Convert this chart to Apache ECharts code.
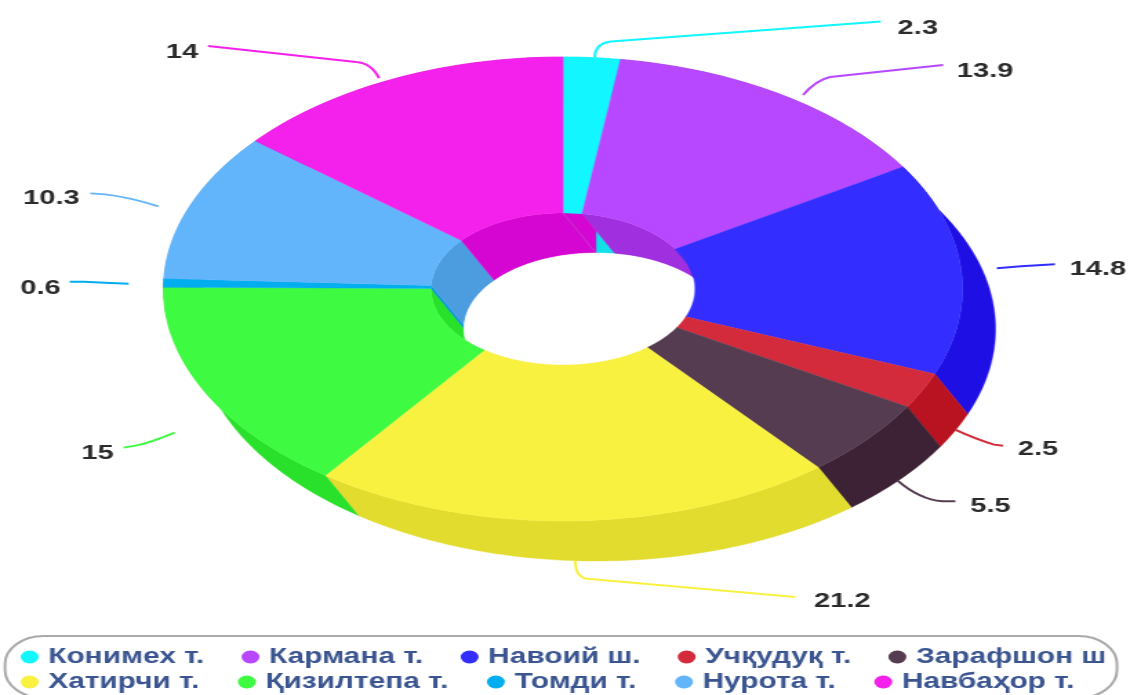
<!DOCTYPE html>
<html>
<head>
<meta charset="utf-8">
<style>
  html, body { margin: 0; padding: 0; background: #fff; overflow: hidden; }
  /* the original picture is stretched sideways, text and legend dots too */
  #chart { width: 819px; height: 695px; transform: scaleX(1.3797); transform-origin: 0 0; }
</style>
<script src="https://cdn.jsdelivr.net/npm/echarts@6/dist/echarts.min.js"></script>
</head>
<body>
<div id="chart"></div>
<script>
const categories = ['Конимех т.', 'Кармана т.', 'Навоий ш.', 'Учқудуқ т.', 'Зарафшон ш', 'Хатирчи т.', 'Қизилтепа т.', 'Томди т.', 'Нурота т.', 'Навбаҳор т.'];
const values = [2.3, 13.9, 14.8, 2.5, 5.5, 21.2, 15, 0.6, 10.3, 14];
const faceColors = ['#12f7ff', '#b748ff', '#332eff', '#d42b3c', '#553c50', '#f9f140', '#3efb41', '#00aeef', '#62b5fb', '#f321eb'];
const wallColors = ['#10e0e8', '#a02fe0', '#1e10e5', '#b91321', '#3d2235', '#e2dc2e', '#29e02b', '#0097d8', '#4b9de0', '#d606d2'];

// leader line per slice, px relative to the slice's mid point on the rim:
// start, bend control, bend end, line end, label centre
const leaders = [
  [[3, 0], [3, -14], [19, -16], [289, -36], [326, -29]],
  [[21, 0], [34, -15], [48, -18], [161, -30], [203, -24]],
  [[36, 0], [60, -2], [60, -2], [94, -4], [137, 1]],
  [[33, 39], [55, 49], [72, 54], [81, 55], [116, 59]],
  [[30, 41], [52, 60], [75, 62], [88, 62], [123, 67]],
  [[1, 40], [1, 58], [16, 58], [221, 76], [268, 80]],
  [[-31, 40], [-55, 50], [-70, 53], [-82, 55], [-108, 61]],
  [[-35, 1], [-60, 0], [-80, -1], [-94, -1], [-123, 5]],
  [[-32, 1], [-60, -8], [-85, -11], [-100, -12], [-139, -7]],
  [[-14, -1], [-22, -16], [-37, -17], [-185, -33], [-211, -27]]
];

const SX = 1130 / 819;
const CX = 563, CY = 289;
const OUTER = [399.5, 232], INNER = [132, 76];
const DEPTH = [33, 40];
const FONT = 'bold 21px "Liberation Sans", Arial, sans-serif';

const total = values.reduce((a, b) => a + b, 0);
const starts = values.map((v, i) => values.slice(0, i).reduce((a, b) => a + b, 0));

// all geometry below is worked out in picture px, then squeezed by SX for the canvas
const rim = (r, frac, shift) => {
  const a = frac * Math.PI * 2;
  return [
    CX + r[0] * Math.sin(a) + (shift ? DEPTH[0] : 0),
    CY - r[1] * Math.cos(a) + (shift ? DEPTH[1] : 0)
  ];
};
const toCanvas = p => [p[0] / SX, p[1]];

const arc = (r, from, to, shift) => {
  const pts = [];
  const steps = Math.max(2, Math.ceil((to - from) * 360));
  for (let k = 0; k <= steps; k++) {
    pts.push(rim(r, from + (to - from) * k / steps, shift));
  }
  return pts;
};

const sliceRange = (api, i) => {
  const from = starts[i] / total;
  return [from, from + api.value(0) / total];
};

const polygon = (pts, fill) => ({
  type: 'polygon',
  shape: { points: pts.map(toCanvas) },
  style: { fill, stroke: fill, lineWidth: 0.4 }
});

const wallItem = r => (params, api) => {
  const i = params.dataIndex;
  const [from, to] = sliceRange(api, i);
  return polygon(arc(r, from, to, false).concat(arc(r, from, to, true).reverse()), wallColors[i]);
};

const faceItem = (params, api) => {
  const i = params.dataIndex;
  const [from, to] = sliceRange(api, i);
  return polygon(arc(OUTER, from, to, false).concat(arc(INNER, from, to, false).reverse()), faceColors[i]);
};

const holeItem = () => polygon(arc(INNER, 0, 1, true), '#fff');

// last slice's wall laps over the first one where they meet at the top
const seamItem = (params, api) => {
  const end = sliceRange(api, 0)[1];
  const a = rim(INNER, 0, false);
  const b = rim(INNER, end, false);
  const t = (a[0] + DEPTH[0] - b[0]) / DEPTH[0];
  const c = [b[0] + DEPTH[0] * t, b[1] + DEPTH[1] * t];
  const d = rim(INNER, 0, true);
  return {
    type: 'group',
    children: [
      polygon([a, b, c, d], wallColors[9]),
      {
        type: 'line',
        shape: { x1: a[0] / SX, y1: a[1], x2: d[0] / SX, y2: d[1] },
        style: { stroke: '#c040c8', lineWidth: 0.7 }
      }
    ]
  };
};

const leaderItem = (params, api) => {
  const i = params.dataIndex;
  const [from, to] = sliceRange(api, i);
  const mid = rim(OUTER, (from + to) / 2, false);
  const [s, c, m, e, l] = leaders[i].map(o => toCanvas([mid[0] + o[0], mid[1] + o[1]]));
  return {
    type: 'group',
    children: [
      {
        type: 'path',
        shape: { pathData: `M${s[0]} ${s[1]}Q${c[0]} ${c[1]} ${m[0]} ${m[1]}L${e[0]} ${e[1]}` },
        style: { fill: 'none', stroke: faceColors[i], lineWidth: 2 }
      },
      {
        type: 'text',
        style: {
          x: l[0], y: l[1], text: String(api.value(0)), font: FONT,
          fill: '#2b2b2b', align: 'center', verticalAlign: 'middle'
        }
      }
    ]
  };
};

const custom = (renderItem, data, z) => ({
  type: 'custom',
  coordinateSystem: 'none',
  silent: true,
  animation: false,
  z,
  renderItem,
  data
});

const legendRow = (data, top, itemGap) => ({
  data,
  left: 15,
  top,
  padding: 0,
  itemGap,
  itemWidth: 13,
  itemHeight: 15,
  icon: 'circle',
  selectedMode: false,
  textStyle: { fontFamily: '"Liberation Sans", Arial, sans-serif', fontSize: 21.6, fontWeight: 'bold', color: '#3a5590', padding: [0, 0, 0, 2] }
});

const chart = echarts.init(document.getElementById('chart'), null, { renderer: 'canvas' });
chart.setOption({
  animation: false,
  backgroundColor: '#fff',
  graphic: [{
    type: 'rect',
    silent: true,
    shape: { x: 5 / SX, y: 636, width: 1112 / SX, height: 62, r: 28 },
    style: { fill: 'none', stroke: '#aaa', lineWidth: 2 }
  }],
  legend: [legendRow(categories.slice(0, 5), 646, 27), legendRow(categories.slice(5), 671, 28)],
  series: [
    custom(wallItem(OUTER), values, 1),
    custom(wallItem(INNER), values, 2),
    custom(seamItem, [values[0]], 3),
    custom(holeItem, [0], 4),
    custom(faceItem, values, 5),
    custom(leaderItem, values, 6),
    {
      // no visible pie, it only feeds the legend its names and colours
      type: 'pie',
      radius: [0, 0],
      silent: true,
      label: { show: false },
      labelLine: { show: false },
      data: categories.map((name, i) => ({ name, value: values[i], itemStyle: { color: faceColors[i] } }))
    }
  ]
});
</script>
</body>
</html>
